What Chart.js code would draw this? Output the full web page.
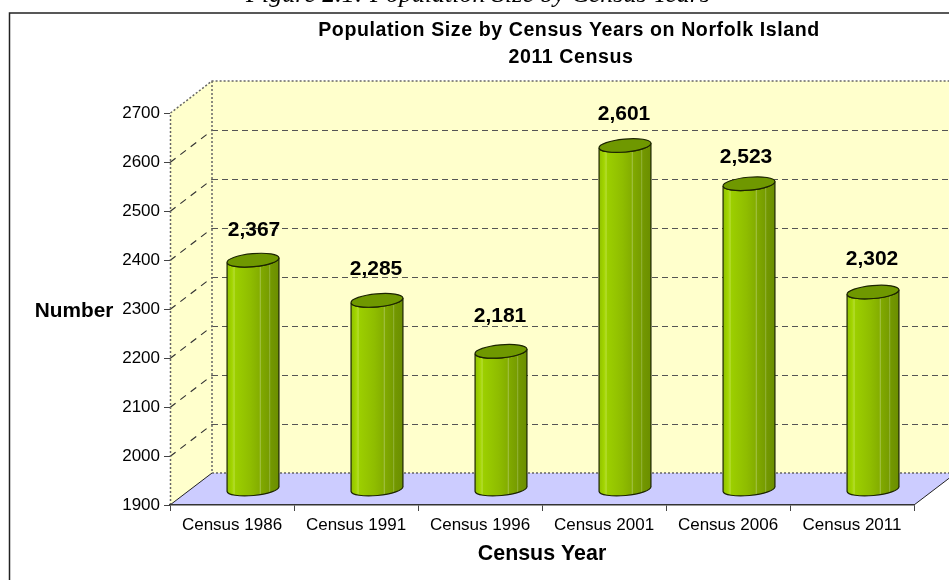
<!DOCTYPE html>
<html>
<head>
<meta charset="utf-8">
<style>
    html, body { margin: 0; padding: 0; background: #fff; overflow: hidden; }
    canvas { display: block; }
</style>
<script src="https://cdn.jsdelivr.net/npm/chart.js@4"></script>
</head>
<body>
<canvas id="chart" width="949" height="580"></canvas>
<script>
// chart values
const categories = ['Census 1986', 'Census 1991', 'Census 1996', 'Census 2001', 'Census 2006', 'Census 2011'];
const population = [2367, 2285, 2181, 2601, 2523, 2302];
const yMin = 1900;
const yMax = 2700;
const yStep = 100;

const captionText = 'Figure 2.1: Population Size by Census Years';
const titleLines = ['Population Size by Census Years on Norfolk Island', '2011 Census'];
const xAxisTitle = 'Census Year';
const yAxisTitle = 'Number';

const FONT = '"Liberation Sans", Arial, sans-serif';
const DEPTH_X = 42;
const DEPTH_Y = 32;

// the source nudged a few value labels by hand
const labelNudgeX = [2, 0, 0, 0, -2, 0];
const labelNudgeY = [1, 0, -4, 0, 4, -2];

// the back wall, side wall and floor, so the bars have something to stand in
const drawRoom = (chart) => {
    const { ctx, scales: { x, y } } = chart;
    const left = x.left, right = x.right, bottom = y.getPixelForValue(yMin), top = y.getPixelForValue(yMax);
    ctx.save();

    ctx.fillStyle = '#ffffff';
    ctx.fillRect(0, 0, chart.width, chart.height);

    ctx.fillStyle = '#ffffcc';
    ctx.fillRect(left + DEPTH_X, top - DEPTH_Y, right - left, bottom - top);
    ctx.beginPath();
    ctx.moveTo(left, top);
    ctx.lineTo(left + DEPTH_X, top - DEPTH_Y);
    ctx.lineTo(left + DEPTH_X, bottom - DEPTH_Y);
    ctx.lineTo(left, bottom);
    ctx.closePath();
    ctx.fill();

    ctx.fillStyle = '#ccccff';
    ctx.beginPath();
    ctx.moveTo(left, bottom);
    ctx.lineTo(right, bottom);
    ctx.lineTo(right + DEPTH_X, bottom - DEPTH_Y);
    ctx.lineTo(left + DEPTH_X, bottom - DEPTH_Y);
    ctx.closePath();
    ctx.fill();

    // dashed grid lines
    ctx.lineWidth = 1.2;
    for (let v = yMin + yStep; v < yMax; v += yStep) {
        const py = Math.round(y.getPixelForValue(v)) + 0.5;
        ctx.strokeStyle = '#333';
        ctx.setLineDash([7, 6]);
        ctx.beginPath();
        ctx.moveTo(left, py);
        ctx.lineTo(left + DEPTH_X, py - DEPTH_Y);
        ctx.stroke();
        ctx.strokeStyle = '#555';
        ctx.setLineDash([6, 4]);
        ctx.beginPath();
        ctx.moveTo(left + DEPTH_X, py - DEPTH_Y);
        ctx.lineTo(right + DEPTH_X, py - DEPTH_Y);
        ctx.stroke();
    }

    // dotted room edges
    ctx.strokeStyle = '#666';
    ctx.lineWidth = 1.5;
    ctx.setLineDash([2, 2]);
    ctx.beginPath();
    ctx.moveTo(left + 0.5, bottom);
    ctx.lineTo(left + 0.5, top);
    ctx.lineTo(left + DEPTH_X, top - DEPTH_Y);
    ctx.lineTo(right + DEPTH_X, top - DEPTH_Y);
    ctx.moveTo(left + DEPTH_X, top - DEPTH_Y);
    ctx.lineTo(left + DEPTH_X, bottom - DEPTH_Y);
    ctx.lineTo(right + DEPTH_X, bottom - DEPTH_Y);
    ctx.stroke();

    // solid floor edges
    ctx.setLineDash([]);
    ctx.strokeStyle = '#222';
    ctx.lineWidth = 1;
    ctx.beginPath();
    ctx.moveTo(left, bottom);
    ctx.lineTo(left + DEPTH_X, bottom - DEPTH_Y);
    ctx.moveTo(right, bottom);
    ctx.lineTo(right + DEPTH_X, bottom - DEPTH_Y);
    ctx.stroke();

    // outer frame, runs off the page on the right and bottom
    ctx.strokeStyle = '#222';
    ctx.lineWidth = 1.5;
    ctx.strokeRect(9.5, 13, 1000, 1000);

    // caption, cut off by the top of the page in the source
    ctx.fillStyle = '#000';
    ctx.font = 'italic 26px "Liberation Serif", serif';
    ctx.textAlign = 'center';
    ctx.textBaseline = 'alphabetic';
    ctx.fillText(captionText, 478, 2);

    ctx.font = 'bold 20.8px ' + FONT;
    ctx.textBaseline = 'middle';
    ctx.fillText(yAxisTitle, 74, 311);

    // the title is a bit shorter and wider set than plain Arial at this width
    ctx.font = 'bold 19.6px ' + FONT;
    ctx.letterSpacing = '0.57px';
    ctx.fillText(titleLines[0], 569, 31);
    ctx.fillText(titleLines[1], 571, 58);
    ctx.restore();
};

const cylinderFill = (ctx, x0, w) => {
    const g = ctx.createLinearGradient(x0, 0, x0 + w, 0);
    const stops = [
        [0, '#8fc000'], [0.1, '#a3d600'], [0.14, '#b4dc30'], [0.16, '#9ccf00'],
        [0.45, '#8fbd00'], [0.62, '#84ae00'], [0.64, '#a4c248'], [0.66, '#80a900'],
        [0.8, '#779d00'], [0.82, '#92b238'], [0.84, '#739800'], [1, '#6b8e00']
    ];
    stops.forEach(([p, c]) => g.addColorStop(p, c));
    return g;
};

const drawCylinder = (ctx, bar, base) => {
    const rx = bar.width / 2;
    const ry = 6.5;
    const tilt = -0.09;
    const cx = bar.x + DEPTH_X / 2;
    const topY = bar.y - DEPTH_Y / 2;
    const baseY = base - DEPTH_Y / 2;

    ctx.save();
    ctx.lineWidth = 1.2;
    ctx.strokeStyle = '#1c2400';

    ctx.beginPath();
    ctx.ellipse(cx, topY, rx, ry, tilt, Math.PI, 0, true);
    ctx.ellipse(cx, baseY, rx, ry, tilt, 0, Math.PI, false);
    ctx.closePath();
    ctx.fillStyle = cylinderFill(ctx, cx - rx, rx * 2);
    ctx.fill();
    ctx.stroke();

    ctx.beginPath();
    ctx.ellipse(cx, topY, rx, ry, tilt, 0, Math.PI * 2);
    ctx.fillStyle = '#6f9800';
    ctx.fill();
    ctx.stroke();
    ctx.restore();
};

const roomPlugin = {
    id: 'room',
    beforeDraw: drawRoom,
    afterDatasetsDraw(chart) {
        const { ctx, scales: { y } } = chart;
        const base = y.getPixelForValue(yMin);
        const bars = chart.getDatasetMeta(0).data;
        bars.forEach((bar) => drawCylinder(ctx, bar, base));

        ctx.save();
        ctx.fillStyle = '#000';
        ctx.font = 'bold 21px ' + FONT;
        ctx.textAlign = 'center';
        ctx.textBaseline = 'middle';
        bars.forEach((bar, i) => {
            const labelX = bar.x + DEPTH_X / 2 - 1 + labelNudgeX[i];
            const labelY = bar.y - DEPTH_Y / 2 - 31 + labelNudgeY[i];
            ctx.fillText(population[i].toLocaleString('en-US'), labelX, labelY);
        });
        ctx.restore();
    }
};

new Chart(document.getElementById('chart'), {
    type: 'bar',
    data: {
        labels: categories,
        datasets: [{
            label: 'Population',
            data: population,
            backgroundColor: 'rgba(0, 0, 0, 0)',
            borderWidth: 0,
            barPercentage: 0.42,
            categoryPercentage: 1
        }]
    },
    options: {
        responsive: false,
        animation: false,
        layout: { padding: { top: 113, right: 35, left: 0, bottom: 0 } },
        plugins: {
            legend: { display: false },
            title: { display: false },
            tooltip: { enabled: false }
        },
        scales: {
            x: {
                afterFit: (scale) => { scale.height = 75; },
                grid: { drawOnChartArea: false, tickLength: 6, color: '#444' },
                border: { color: '#333', width: 1.5 },
                ticks: { color: '#000', font: { family: FONT, size: 17 }, padding: 4, maxRotation: 0 },
                title: {
                    display: true,
                    text: xAxisTitle,
                    color: '#000',
                    font: { family: FONT, size: 21.4, weight: 'bold' },
                    padding: { top: 0, bottom: 13 }
                }
            },
            y: {
                min: yMin,
                max: yMax,
                afterFit: (scale) => { scale.width = 170; },
                grid: { drawOnChartArea: false, tickLength: 6, color: '#444' },
                border: { display: false },
                ticks: {
                    stepSize: yStep,
                    color: '#000',
                    font: { family: FONT, size: 17 },
                    padding: 4,
                    callback: (value) => String(value)
                }
            }
        }
    },
    plugins: [roomPlugin]
});
</script>
</body>
</html>
